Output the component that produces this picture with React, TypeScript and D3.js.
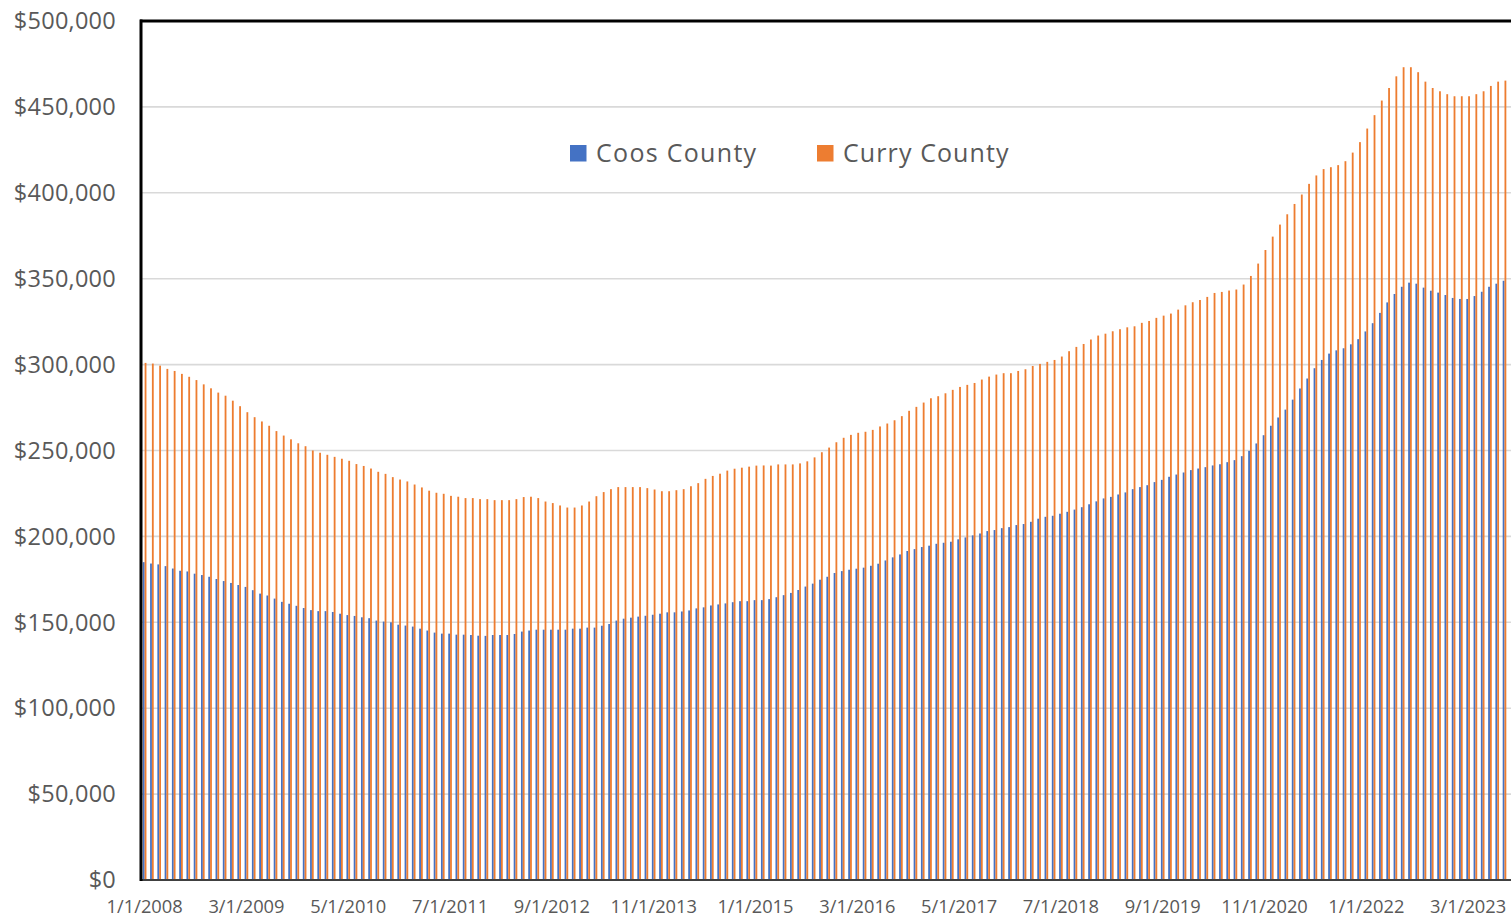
import React, { useEffect } from "react";
import * as d3 from "d3";

// Monthly median values (thousands of dollars), Jan 2008 – Aug 2023
const coosCounty: number[] = [
  185.0, 184.2, 183.7, 182.7, 181.3, 180.0, 179.6, 178.3, 177.5, 176.5, 175.2, 174.0,
  172.9, 171.7, 170.6, 168.7, 166.7, 165.6, 163.8, 161.9, 160.8, 159.6, 158.3, 157.1,
  156.5, 156.5, 156.0, 155.0, 154.2, 153.7, 152.9, 152.4, 151.0, 150.4, 150.0, 148.6,
  148.1, 147.5, 146.3, 145.2, 144.0, 143.4, 143.4, 142.8, 142.8, 142.6, 142.2, 142.1,
  142.6, 142.6, 142.6, 143.2, 144.6, 145.2, 145.7, 145.7, 145.7, 145.7, 145.7, 146.3,
  146.3, 146.9, 146.9, 148.0, 149.0, 151.0, 152.1, 152.7, 153.3, 153.8, 154.4, 155.0,
  155.8, 155.8, 156.3, 156.9, 158.1, 158.7, 159.8, 160.4, 161.0, 161.7, 162.3, 162.3,
  162.9, 162.9, 163.5, 164.6, 165.8, 167.1, 168.8, 170.8, 172.5, 174.8, 176.5, 178.7,
  179.8, 180.6, 181.2, 181.8, 182.9, 184.1, 186.0, 187.8, 189.5, 191.5, 192.6, 193.8,
  194.6, 195.7, 196.3, 196.9, 198.3, 199.4, 200.6, 201.7, 203.1, 203.7, 204.8, 205.4,
  206.6, 207.2, 208.5, 210.3, 211.4, 212.0, 213.2, 214.3, 215.6, 217.0, 218.7, 220.4,
  222.1, 223.0, 224.4, 225.6, 227.5, 228.7, 229.8, 231.6, 232.9, 234.7, 236.0, 237.2,
  238.6, 239.5, 240.3, 241.3, 242.0, 243.2, 244.4, 246.7, 249.8, 254.1, 258.9, 264.4,
  269.2, 273.8, 279.6, 286.1, 291.9, 297.9, 302.7, 306.4, 308.3, 309.5, 311.8, 314.8,
  319.3, 324.1, 330.1, 336.2, 341.1, 345.3, 347.7, 347.1, 344.8, 343.0, 341.9, 340.5,
  338.8, 338.2, 338.2, 339.9, 342.4, 345.3, 347.1, 348.8,
];

const curryCounty: number[] = [
  301.0, 300.6, 299.4, 297.5, 296.3, 294.6, 292.9, 291.0, 288.5, 286.2, 283.7, 281.9,
  279.0, 275.8, 272.3, 269.4, 266.9, 264.4, 261.3, 258.7, 256.5, 254.2, 252.5, 250.0,
  248.7, 247.5, 246.3, 245.2, 244.0, 242.1, 241.0, 239.5, 237.6, 236.4, 234.5, 233.1,
  232.0, 230.2, 228.5, 226.6, 225.4, 224.8, 223.6, 223.1, 222.3, 222.3, 221.7, 221.7,
  221.1, 221.1, 221.1, 221.7, 222.9, 223.1, 222.3, 220.3, 219.4, 218.0, 216.8, 216.8,
  218.0, 220.3, 223.4, 225.8, 227.5, 228.7, 228.7, 228.7, 228.7, 228.1, 227.3, 226.3,
  226.3, 226.9, 227.5, 229.2, 231.0, 233.5, 235.2, 236.5, 238.3, 239.4, 240.0, 240.6,
  241.2, 241.3, 241.2, 241.9, 241.9, 241.9, 242.5, 243.7, 246.0, 249.0, 251.7, 254.8,
  257.4, 259.1, 260.3, 260.9, 262.0, 264.0, 265.7, 267.6, 270.0, 273.1, 275.4, 277.9,
  280.4, 281.6, 283.3, 285.3, 287.0, 288.2, 289.3, 291.3, 293.0, 294.2, 295.0, 295.0,
  296.3, 297.3, 299.2, 300.4, 301.6, 302.7, 304.7, 307.8, 310.3, 312.0, 314.6, 316.9,
  318.0, 319.4, 320.6, 321.7, 322.3, 324.3, 325.4, 327.2, 328.5, 329.7, 332.0, 334.5,
  336.3, 337.6, 339.4, 341.7, 342.3, 343.1, 343.7, 346.6, 351.6, 358.8, 366.7, 374.5,
  381.5, 387.5, 393.5, 399.0, 405.2, 410.1, 413.8, 414.9, 416.1, 418.4, 423.4, 429.5,
  437.4, 445.2, 453.7, 461.0, 467.8, 473.1, 473.1, 470.2, 464.7, 461.0, 459.1, 457.4,
  456.2, 456.2, 456.2, 457.4, 459.1, 462.2, 464.7, 465.3,
];

const seriesNames = ["Coos County", "Curry County"];
const seriesColors = ["#4472C4", "#ED7D31"];

const tickLabels = [
  "1/1/2008", "3/1/2009", "5/1/2010", "7/1/2011", "9/1/2012", "11/1/2013", "1/1/2015",
  "3/1/2016", "5/1/2017", "7/1/2018", "9/1/2019", "11/1/2020", "1/1/2022", "3/1/2023",
];

const yTicks = [0, 50000, 100000, 150000, 200000, 250000, 300000, 350000, 400000, 450000, 500000];

const fmtDate = (d: Date) => `${d.getMonth() + 1}/${d.getDate()}/${d.getFullYear()}`;
const months: string[] = d3
  .timeMonth.range(new Date(2008, 0, 1), new Date(2008, coosCounty.length, 1))
  .map(fmtDate);

export default function App() {
  useEffect(() => {
    document.documentElement.style.overflow = "hidden";
    document.body.style.overflow = "hidden";
    document.body.style.margin = "0";
  }, []);

  const W = 1511;
  const H = 916;
  const left = 141;
  const top = 21;
  const bottom = 880;
  const step = 7.272;

  const x = d3.scaleBand<string>().domain(months).range([left, left + step * months.length]).paddingInner(0).paddingOuter(0);
  const xs = d3.scaleBand<string>().domain(seriesNames).range([0, x.bandwidth()]).paddingInner(0).paddingOuter(1);
  const y = d3.scaleLinear().domain([0, 500000]).range([bottom, top]);
  const fmtY = (v: number) => "$" + d3.format(",")(v);

  const series = [coosCounty, curryCounty];
  const textColor = "#595959";
  const font = "'Open Sans', 'Segoe UI', sans-serif";

  return (
    <div style={{ position: "absolute", left: 0, top: 0, width: W, height: H, overflow: "hidden", background: "#fff" }}>
      <svg width={W} height={H} style={{ display: "block" }}>
        <rect x={0} y={0} width={W} height={H} fill="#fff" />
        {/* gridlines */}
        {yTicks.slice(1, -1).map((t) => (
          <line key={t} x1={left} x2={W} y1={y(t)} y2={y(t)} stroke="#d9d9d9" strokeWidth={1.6} />
        ))}
        {/* bars */}
        {series.map((vals, si) => (
          <g key={si} fill={seriesColors[si]}>
            {vals.map((v, i) => {
              const m = months[i];
              const yy = y(v * 1000);
              return (
                <rect
                  key={i}
                  x={(x(m) as number) + (xs(seriesNames[si]) as number)}
                  y={yy}
                  width={xs.bandwidth()}
                  height={bottom - yy}
                />
              );
            })}
          </g>
        ))}
        {/* axes frame */}
        <line x1={left} x2={W} y1={bottom} y2={bottom} stroke="#404040" strokeWidth={2} />
        <line x1={left - 1} x2={W} y1={top} y2={top} stroke="#000" strokeWidth={2.8} />
        <line x1={left} x2={left} y1={top - 1.4} y2={bottom + 1} stroke="#000" strokeWidth={3} />
        {/* y labels */}
        {yTicks.map((t) => (
          <text
            key={t}
            x={116}
            y={y(t)}
            dy="0.35em"
            textAnchor="end"
            fontFamily={font}
            fontSize={23.5}
            letterSpacing={0.25}
            fill={textColor}
          >
            {fmtY(t)}
          </text>
        ))}
        {/* x labels */}
        {tickLabels.map((lab) => {
          const cx = (x(lab) as number) + x.bandwidth() / 2;
          return (
            <text key={lab} x={cx} y={912.5} textAnchor="middle" fontFamily={font} fontSize={18.3} fill={textColor}>
              {lab}
            </text>
          );
        })}
        {/* legend */}
        <g fontFamily={font} fontSize={25} fill={textColor}>
          <rect x={570} y={145} width={16.5} height={16.5} fill={seriesColors[0]} />
          <text x={596} y={153} dy="0.35em" letterSpacing={1.3}>{seriesNames[0]}</text>
          <rect x={817} y={145} width={16.5} height={16.5} fill={seriesColors[1]} />
          <text x={843} y={153} dy="0.35em" letterSpacing={1.1}>{seriesNames[1]}</text>
        </g>
      </svg>
    </div>
  );
}
